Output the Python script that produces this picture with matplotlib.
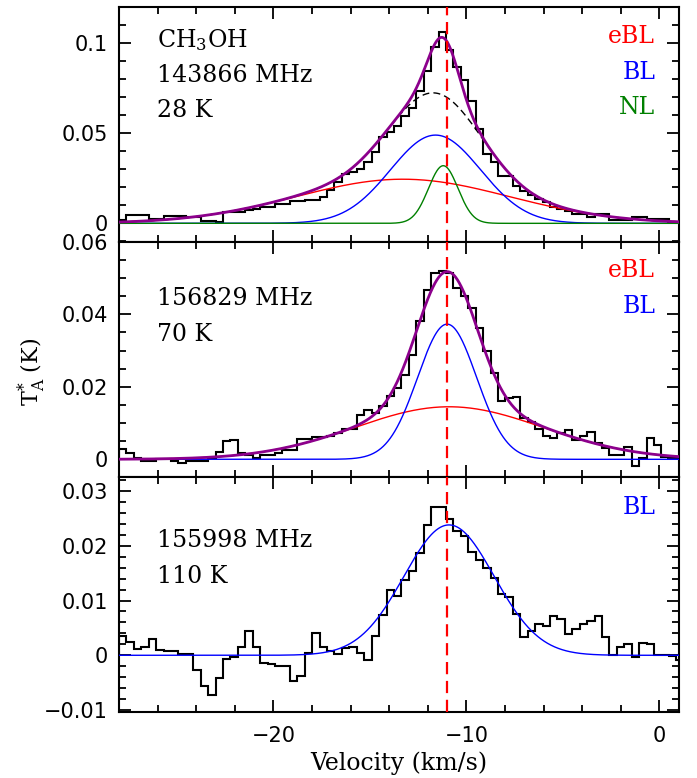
import numpy as np
import matplotlib
matplotlib.use("Agg")
import matplotlib.pyplot as plt
from matplotlib.ticker import MultipleLocator, FuncFormatter

plt.rcParams['mathtext.fontset'] = 'dejavuserif'

# channel grid (km/s)
V0 = -28.0
DV = 0.385
V_SYS = -11.0  # red dashed line

# observed spectra, one value per channel (K)
t_143866 = [0.0019, 0.0046, 0.0046, 0.0046, 0.0024, 0.0024, 0.0043, 0.0043, 0.0043, 0.0033,
            0.0033, 0.0015, 0.0015, 0.0010, 0.0065, 0.0065, 0.0065, 0.0072, 0.0080, 0.0093,
            0.0093, 0.0107, 0.0107, 0.0126, 0.0126, 0.0128, 0.0128, 0.0144, 0.0185, 0.0228,
            0.0274, 0.0283, 0.0302, 0.0339, 0.0394, 0.0478, 0.0509, 0.0543, 0.0598, 0.0641,
            0.0737, 0.0848, 0.0978, 0.1065, 0.0965, 0.0867, 0.0796, 0.0681, 0.0524, 0.0385,
            0.0339, 0.0265, 0.0265, 0.0209, 0.0181, 0.0157, 0.0135, 0.0117, 0.0093, 0.0080,
            0.0067, 0.0052, 0.0052, 0.0037, 0.0052, 0.0052, 0.0019, 0.0019, 0.0019, 0.0033,
            0.0033, 0.0024, 0.0024, 0.0024, 0.0006, 0.0006]
t_156829 = [0.0029, 0.0017, 0.0005, -0.0004, -0.0004, 0.0000, 0.0000, -0.0006, -0.0011, -0.0006,
            -0.0006, -0.0006, 0.0005, 0.0019, 0.0050, 0.0052, 0.0017, 0.0012, 0.0003, 0.0012,
            0.0012, 0.0017, 0.0026, 0.0026, 0.0056, 0.0056, 0.0061, 0.0061, 0.0065, 0.0072,
            0.0083, 0.0083, 0.0123, 0.0135, 0.0129, 0.0146, 0.0175, 0.0196, 0.0233, 0.0289,
            0.0381, 0.0468, 0.0515, 0.0519, 0.0513, 0.0473, 0.0452, 0.0418, 0.0362, 0.0298,
            0.0238, 0.0160, 0.0169, 0.0172, 0.0113, 0.0104, 0.0083, 0.0063, 0.0058, 0.0072,
            0.0081, 0.0053, 0.0065, 0.0074, 0.0044, 0.0030, 0.0012, 0.0012, 0.0035, -0.0018,
            0.0003, 0.0060, 0.0040, 0.0007, 0.0007, 0.0007]
t_155998 = [0.0035, 0.0024, 0.0012, 0.0016, 0.0030, 0.0010, 0.0007, 0.0007, 0.0003, 0.0003,
            -0.0026, -0.0056, -0.0073, -0.0041, -0.0007, -0.0004, 0.0016, 0.0044, 0.0016, -0.0014,
            -0.0015, -0.0020, -0.0020, -0.0047, -0.0037, 0.0005, 0.0040, 0.0016, 0.0008, 0.0002,
            0.0014, 0.0016, 0.0005, -0.0008, 0.0035, 0.0073, 0.0119, 0.0108, 0.0138, 0.0153,
            0.0186, 0.0238, 0.0271, 0.0271, 0.0248, 0.0227, 0.0217, 0.0189, 0.0174, 0.0159,
            0.0142, 0.0111, 0.0106, 0.0075, 0.0033, 0.0044, 0.0058, 0.0054, 0.0071, 0.0066,
            0.0038, 0.0048, 0.0057, 0.0063, 0.0072, 0.0033, 0.0000, 0.0016, 0.0021, -0.0004,
            0.0023, 0.0020, 0.0000, 0.0000, -0.0002, -0.0008]

# gaussian components: (amplitude K, centre km/s, FWHM km/s)
fit_143866 = {"eBL": (0.0245, -13.3, 13.0), "BL": (0.049, -11.6, 5.5), "NL": (0.032, -11.2, 1.8)}
fit_156829 = {"eBL": (0.0145, -10.9, 11.5), "BL": (0.0373, -11.0, 3.6)}
fit_155998 = {"BL": (0.0238, -10.9, 5.5)}

panels = [
    dict(spec=t_143866, fit=fit_143866, ylim=(-0.0102, 0.1203), major=0.05, minor=0.01,
         lines=["CH$_3$OH", "143866 MHz", "28 K"], ly=[0.858, 0.709, 0.56], total=True, dashed=True),
    dict(spec=t_156829, fit=fit_156829, ylim=(-0.0048, 0.06005), major=0.02, minor=0.005,
         lines=["156829 MHz", "70 K"], ly=[0.76, 0.605], total=True, dashed=False),
    dict(spec=t_155998, fit=fit_155998, ylim=(-0.0103, 0.0326), major=0.01, minor=0.002,
         lines=["155998 MHz", "110 K"], ly=[0.728, 0.575], total=False, dashed=False),
]
label_y = {0: [0.875, 0.722, 0.569], 1: [0.879, 0.725], 2: [0.867]}
colors = {"eBL": "#ff0000", "BL": "#0000ff", "NL": "#008000"}


def gauss(v, amp, cen, fwhm):
    return amp * np.exp(-4 * np.log(2) * ((v - cen) / fwhm) ** 2)


def fmt(y, pos):
    return ("%g" % round(y, 4)).replace("-", "\u2212")


fig, axes = plt.subplots(3, 1, figsize=(6.97, 7.78), dpi=100, sharex=True)
fig.subplots_adjust(left=0.1707, right=0.9738, bottom=0.0852, top=0.9914, hspace=0)

v = np.linspace(-28, 1, 1200)
serif = "DejaVu Serif"

for i, (ax, p) in enumerate(zip(axes, panels)):
    edges = V0 + DV * np.arange(len(p["spec"]) + 1)
    ax.stairs(p["spec"], edges, color="black", lw=1.5, zorder=3)

    comps = {}
    for name, pars in p["fit"].items():
        comps[name] = gauss(v, *pars)
        ax.plot(v, comps[name], color=colors[name], lw=1.0, zorder=4)
    if p["dashed"]:
        ax.plot(v, comps["eBL"] + comps["BL"], color="black", lw=1.0,
                dashes=(5, 3), zorder=4)
    if p["total"]:
        ax.plot(v, sum(comps.values()), color="#8c008c", lw=2.0, zorder=5)

    ax.axvline(V_SYS, color="#ff0000", lw=1.6, dashes=(5.5, 3), zorder=6)

    ax.set_xlim(-28, 1)
    ax.set_ylim(*p["ylim"])
    ax.yaxis.set_major_locator(MultipleLocator(p["major"]))
    ax.yaxis.set_minor_locator(MultipleLocator(p["minor"]))
    ax.yaxis.set_major_formatter(FuncFormatter(fmt))
    ax.xaxis.set_major_locator(MultipleLocator(10))
    ax.xaxis.set_minor_locator(MultipleLocator(2))
    ax.xaxis.set_major_formatter(FuncFormatter(fmt))
    ax.tick_params(which="both", direction="in", top=True, right=True, width=1.3)
    ax.tick_params(which="major", length=8.5, labelsize=15, pad=8)
    ax.tick_params(which="minor", length=4.8)
    ax.tick_params(axis="x", which="major", pad=10)
    for s in ax.spines.values():
        s.set_linewidth(1.5)

    for txt, y in zip(p["lines"], p["ly"]):
        ax.text(0.068, y, txt, transform=ax.transAxes, fontsize=17, family=serif,
                va="center", ha="left")
    for (name, _), y in zip(p["fit"].items(), label_y[i]):
        ax.text(0.958, y, name, transform=ax.transAxes, fontsize=17, family=serif,
                va="center", ha="right", color=colors[name])

axes[-1].set_xlabel("Velocity (km/s)", fontsize=17, family=serif, labelpad=4)
fig.text(0.045, 0.522, "T$_\\mathrm{A}^{*}$ (K)", rotation=90, fontsize=16, family=serif,
         va="center", ha="center")

fig.savefig("out.png", dpi=100)
